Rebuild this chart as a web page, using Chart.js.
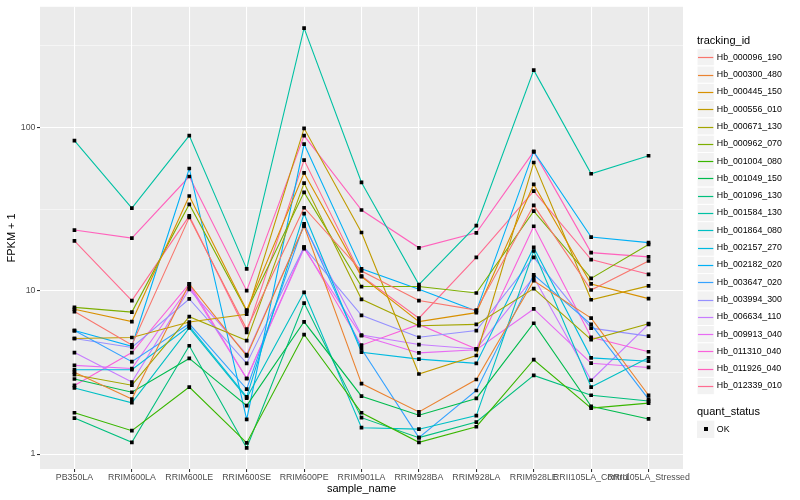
<!DOCTYPE html>
<html lang="en">
<head>
  <meta charset="UTF-8" />
  <title>FPKM + 1 by sample</title>
  <script src="https://cdn.jsdelivr.net/npm/chart.js"></script>
  <style>
    html, body { margin: 0; padding: 0; background: #fff; }
    #wrap { width: 800px; height: 500px; }
  </style>
</head>
<body>
  <div id="wrap"><canvas id="grafico" width="800" height="500"></canvas></div>

  <script>
    // categorias (eje x)
    const samples = ['PB350LA', 'RRIM600LA', 'RRIM600LE', 'RRIM600SE', 'RRIM600PE', 'RRIM901LA',
      'RRIM928BA', 'RRIM928LA', 'RRIM928LE', 'RRII105LA_Control', 'RRII105LA_Stressed'];

    const trackingIds = ['Hb_000096_190', 'Hb_000300_480', 'Hb_000445_150', 'Hb_000556_010', 'Hb_000671_130',
      'Hb_000962_070', 'Hb_001004_080', 'Hb_001049_150', 'Hb_001096_130', 'Hb_001584_130',
      'Hb_001864_080', 'Hb_002157_270', 'Hb_002182_020', 'Hb_003647_020', 'Hb_003994_300',
      'Hb_006634_110', 'Hb_009913_040', 'Hb_011310_040', 'Hb_011926_040', 'Hb_012339_010'];

    // FPKM + 1, una lista por gen
    const hb_000096_190 = [7.45, 4.66, 28.1, 5.82, 32.2, 13.2, 8.7, 7.6, 33.3, 10.1, 15.2];
    const hb_000300_480 = [3.17, 2.17, 11, 3.99, 24.9, 2.7, 1.81, 2.86, 11.5, 6.79, 2.29];
    const hb_000445_150 = [7.7, 6.47, 38, 7.6, 52.6, 12.2, 6.47, 7.34, 44.7, 11, 8.94];
    const hb_000556_010 = [5.1, 5.17, 6.43, 7.18, 98.6, 22.7, 3.09, 4.01, 60.9, 8.8, 10.7];
    const hb_000671_130 = [3.06, 2.64, 6.93, 4.95, 45.6, 8.85, 6.1, 6.22, 10.3, 5.02, 6.28];
    const hb_000962_070 = [7.9, 7.4, 33.8, 7.5, 40, 10.6, 10.6, 9.68, 30.7, 11.9, 19.2];
    const hb_001004_080 = [1.79, 1.39, 2.57, 1.17, 5.39, 1.79, 1.18, 1.47, 3.78, 1.91, 2.05];
    const hb_001049_150 = [2.88, 2.39, 3.85, 1.98, 6.45, 2.26, 1.73, 2.19, 6.32, 1.96, 1.64];
    const hb_001096_130 = [1.66, 1.18, 4.6, 1.09, 8.4, 1.67, 1.26, 1.57, 3.03, 2.29, 2.11];
    const hb_001584_130 = [83, 32, 89, 13.6, 405, 46, 10.9, 25, 224, 52, 67];
    const hb_001864_080 = [2.54, 2.06, 5.92, 2.2, 9.77, 1.45, 1.42, 1.72, 17.5, 2.57, 3.88];
    const hb_002157_270 = [3.28, 3.28, 6.06, 2.24, 29.6, 4.2, 3.81, 3.59, 18.4, 3.88, 3.7];
    const hb_002182_020 = [5.7, 4.57, 56, 1.63, 79, 13.6, 10.2, 7.5, 71, 21.3, 19.7];
    const hb_003647_020 = [5.7, 3.68, 6.27, 2.5, 25.7, 4.4, 1.26, 2.45, 12.5, 6.22, 2.17];
    const hb_003994_300 = [5.1, 4.49, 8.9, 3.59, 18.5, 7.07, 5.19, 5.7, 16, 5.9, 5.27];
    const hb_006634_110 = [4.18, 2.76, 10.2, 4.07, 24.9, 5.35, 4.68, 4.4, 12.1, 2.83, 6.22];
    const hb_009913_040 = [3.49, 3.34, 10.6, 2.9, 18.1, 5.3, 4.16, 4.35, 7.73, 3.6, 3.39];
    const hb_011310_040 = [2.63, 4.18, 11, 2.9, 18.5, 4.64, 6.22, 4.4, 24.8, 5.19, 4.23];
    const hb_011926_040 = [23.5, 21, 50, 10, 89, 31.2, 18.3, 22.6, 71, 17.1, 16.1];
    const hb_012339_010 = [20.2, 8.7, 28.7, 5.56, 63, 12.3, 6.79, 16, 40.7, 15.5, 12.6];

    const yLabels = [1, 10, 100];

    const series = [hb_000096_190, hb_000300_480, hb_000445_150, hb_000556_010, hb_000671_130,
      hb_000962_070, hb_001004_080, hb_001049_150, hb_001096_130, hb_001584_130,
      hb_001864_080, hb_002157_270, hb_002182_020, hb_003647_020, hb_003994_300,
      hb_006634_110, hb_009913_040, hb_011310_040, hb_011926_040, hb_012339_010];

    // paleta hue de ggplot para 20 niveles
    const colores = ['#F8766D', '#EA8331', '#D89000', '#C09B00', '#A3A500', '#7CAE00', '#39B600', '#00BB4E',
      '#00BF7D', '#00C1A3', '#00BFC4', '#00BAE0', '#00B0F6', '#35A2FF', '#9590FF', '#C77CFF',
      '#E76BF3', '#FA62DB', '#FF62BC', '#FF6C91'];

    const FONT = '"Liberation Sans", Arial, sans-serif';

    const toPoints = vals => vals.map((v, i) => ({ x: i, y: v }));

    const lineSets = series.map((vals, i) => ({
      label: trackingIds[i],
      data: toPoints(vals),
      borderColor: colores[i],
      borderWidth: 1.1,
      pointRadius: 0,
      fill: false,
      tension: 0,
      order: 2
    }));

    const pointSets = series.map((vals, i) => ({
      label: trackingIds[i] + ' OK',
      data: toPoints(vals),
      showLine: false,
      pointStyle: 'rect',
      pointRadius: 2.6,
      pointBackgroundColor: '#000',
      pointBorderWidth: 0,
      order: 1
    }));

    // fondo gris del panel, leyendas y títulos estilo ggplot
    const ggPlugin = {
      id: 'ggPlugin',
      beforeDraw(chart) {
        const { ctx, chartArea: a } = chart;
        ctx.save();
        ctx.fillStyle = '#EBEBEB';
        ctx.fillRect(a.left, a.top, a.right - a.left, a.bottom - a.top);
        ctx.restore();
      },
      afterDraw(chart) {
        const { ctx, chartArea: a } = chart;
        ctx.save();
        ctx.fillStyle = '#000';
        ctx.font = '11px ' + FONT;
        ctx.textAlign = 'center';
        ctx.textBaseline = 'middle';
        ctx.fillText('sample_name', (a.left + a.right) / 2, 489);
        ctx.translate(12, (a.top + a.bottom) / 2);
        ctx.rotate(-Math.PI / 2);
        ctx.fillText('FPKM + 1', 0, 0);
        ctx.restore();

        // leyenda tracking_id
        const lx = 697, kw = 17.3, kh = 17.3, y0 = 48.7;
        ctx.save();
        ctx.textAlign = 'left';
        ctx.textBaseline = 'middle';
        ctx.fillStyle = '#000';
        ctx.font = '11px ' + FONT;
        ctx.fillText('tracking_id', lx, 40.5);
        ctx.font = '8.8px ' + FONT;
        trackingIds.forEach((id, i) => {
          const ky = y0 + i * kh;
          const cy = Math.round(ky + kh / 2) + 0.5;
          ctx.fillStyle = '#F2F2F2';
          ctx.fillRect(lx, ky, kw, kh);
          ctx.strokeStyle = '#fff';
          ctx.lineWidth = 1;
          ctx.strokeRect(lx, ky, kw, kh);
          ctx.strokeStyle = colores[i];
          ctx.lineWidth = 1.2;
          ctx.beginPath();
          ctx.moveTo(lx + 1, cy);
          ctx.lineTo(lx + kw - 1, cy);
          ctx.stroke();
          ctx.fillStyle = '#000';
          ctx.fillText(id, lx + kw + 2.5, ky + kh / 2);
        });

        // leyenda quant_status
        ctx.font = '11px ' + FONT;
        ctx.fillText('quant_status', lx, 412.3);
        const qy = 420.7;
        ctx.fillStyle = '#F2F2F2';
        ctx.fillRect(lx, qy, kw, kh);
        ctx.fillStyle = '#000';
        ctx.fillRect(Math.round(lx + kw / 2 - 2), Math.round(qy + kh / 2 - 2), 4, 4);
        ctx.font = '8.8px ' + FONT;
        ctx.fillText('OK', lx + kw + 2.5, qy + kh / 2);
        ctx.restore();
      }
    };

    const minorY = [Math.sqrt(10), Math.sqrt(1000), Math.sqrt(100000)];

    new Chart(document.getElementById('grafico'), {
      type: 'line',
      data: { datasets: [...pointSets, ...lineSets] },
      options: {
        responsive: false,
        animation: false,
        layout: { padding: { top: 5, right: 117, left: 0, bottom: 0 } },
        plugins: { legend: { display: false }, tooltip: { enabled: false } },
        scales: {
          x: {
            type: 'linear',
            min: -0.6,
            max: 10.6,
            afterBuildTicks: s => { s.ticks = samples.map((_, i) => ({ value: i })); },
            afterFit: s => { s.height = 31; },
            border: { display: false },
            grid: { color: '#fff', lineWidth: 1.07, tickColor: '#333', tickLength: 3 },
            ticks: {
              autoSkip: false, maxRotation: 0, padding: 0, color: '#4D4D4D',
              font: { family: FONT, size: 8.8 },
              callback: v => samples[v]
            }
          },
          y: {
            type: 'logarithmic',
            min: 0.81,
            max: 547,
            afterBuildTicks: s => {
              s.ticks = [...yLabels, ...minorY].sort((p, q) => p - q).map(v => ({ value: v }));
            },
            afterFit: s => { s.width = 40; },
            border: { display: false },
            grid: {
              color: '#fff',
              lineWidth: c => (yLabels.includes(c.tick && c.tick.value) ? 1.07 : 0.53),
              tickColor: c => (yLabels.includes(c.tick && c.tick.value) ? '#333' : 'rgba(0,0,0,0)'),
              tickLength: 3
            },
            ticks: {
              padding: 1.5, color: '#4D4D4D',
              font: { family: FONT, size: 8.8 },
              callback: v => (yLabels.includes(v) ? String(v) : '')
            }
          }
        }
      },
      plugins: [ggPlugin]
    });
  </script>
</body>
</html>
